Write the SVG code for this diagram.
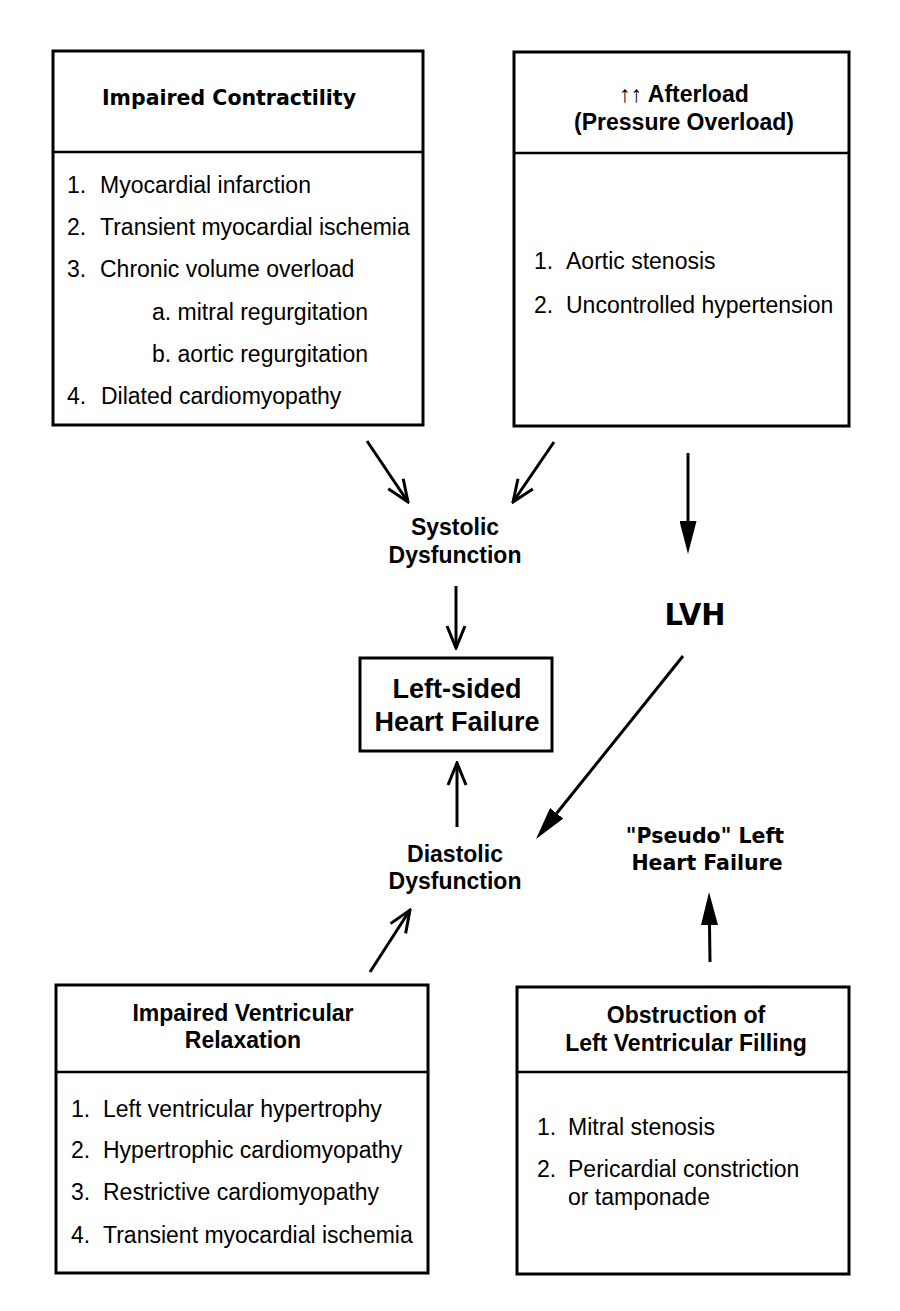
<svg xmlns="http://www.w3.org/2000/svg" width="900" height="1311" viewBox="0 0 900 1311">
<style>
.box{fill:none;stroke:#000;stroke-width:3}
.div{stroke:#000;stroke-width:2.5}
.ln{stroke:#000;stroke-width:3;fill:none}
.hv{font-family:"Liberation Sans",Arial,sans-serif;font-weight:bold;font-size:23px;fill:#000;text-anchor:middle}
.big{font-size:27px}
.vd{font-family:"DejaVu Sans",Verdana,sans-serif;font-weight:bold;font-size:20.5px;fill:#000;text-anchor:middle}
.lvh{font-size:31px}
.li{font-family:"Liberation Sans",Arial,sans-serif;font-size:23px;fill:#000}
.nb{font-weight:normal}
</style>
<defs>
<marker id="open" markerUnits="userSpaceOnUse" viewBox="0 0 26 22" refX="24" refY="11" markerWidth="26" markerHeight="22" orient="auto">
<path d="M2,2 L24,11 L2,20" fill="none" stroke="#000" stroke-width="3"/>
</marker>
<marker id="solid" markerUnits="userSpaceOnUse" viewBox="0 0 33 17" refX="0" refY="8.5" markerWidth="33" markerHeight="17" orient="auto">
<path d="M0,0 L33,8.5 L0,17 z" fill="#000"/>
</marker>
</defs>
<rect width="900" height="1311" fill="#fff"/>

<g id="impaired-contractility">
<rect class="box" x="53" y="51" width="370" height="374"/>
<line class="div" x1="53" y1="152" x2="423" y2="152"/>
<text class="vd" x="229" y="105">Impaired Contractility</text>
<text class="li" x="67" y="193">1.</text><text class="li" x="100" y="193">Myocardial infarction</text>
<text class="li" x="67" y="235">2.</text><text class="li" x="100" y="235">Transient myocardial ischemia</text>
<text class="li" x="67" y="277">3.</text><text class="li" x="100" y="277">Chronic volume overload</text>
<text class="li" x="152" y="320">a. mitral regurgitation</text>
<text class="li" x="152" y="362">b. aortic regurgitation</text>
<text class="li" x="67" y="404">4.</text><text class="li" x="101" y="404">Dilated cardiomyopathy</text>
</g>

<g id="afterload">
<rect class="box" x="514" y="52" width="335" height="374"/>
<line class="div" x1="514" y1="153" x2="849" y2="153"/>
<text class="hv" x="684" y="102"><tspan class="nb">↑↑</tspan> Afterload</text>
<text class="hv" x="684" y="130">(Pressure Overload)</text>
<text class="li" x="534" y="269">1.</text><text class="li" x="566" y="269">Aortic stenosis</text>
<text class="li" x="534" y="313">2.</text><text class="li" x="566" y="313">Uncontrolled hypertension</text>
</g>

<g id="systolic">
<text class="hv" x="455" y="535">Systolic</text>
<text class="hv" x="455" y="563">Dysfunction</text>
</g>

<g id="lvh">
<text class="vd lvh" x="695" y="625" textLength="61" lengthAdjust="spacingAndGlyphs">LVH</text>
</g>

<g id="left-sided-hf">
<rect class="box" x="360" y="658" width="192" height="93"/>
<text class="hv big" x="457" y="698">Left-sided</text>
<text class="hv big" x="457" y="731">Heart Failure</text>
</g>

<g id="diastolic">
<text class="hv" x="455" y="862">Diastolic</text>
<text class="hv" x="455" y="889">Dysfunction</text>
</g>

<g id="pseudo">
<text class="vd" x="705" y="843">"Pseudo" Left</text>
<text class="vd" x="707" y="870">Heart Failure</text>
</g>

<g id="impaired-relaxation">
<rect class="box" x="56" y="985" width="372" height="288"/>
<line class="div" x1="56" y1="1072" x2="428" y2="1072"/>
<text class="hv" x="243" y="1021">Impaired Ventricular</text>
<text class="hv" x="243" y="1048">Relaxation</text>
<text class="li" x="71" y="1117">1.</text><text class="li" x="103" y="1117">Left ventricular hypertrophy</text>
<text class="li" x="71" y="1158">2.</text><text class="li" x="103" y="1158">Hypertrophic cardiomyopathy</text>
<text class="li" x="71" y="1200">3.</text><text class="li" x="103" y="1200">Restrictive cardiomyopathy</text>
<text class="li" x="71" y="1243">4.</text><text class="li" x="103" y="1243">Transient myocardial ischemia</text>
</g>

<g id="obstruction">
<rect class="box" x="517" y="987" width="332" height="287"/>
<line class="div" x1="517" y1="1072" x2="849" y2="1072"/>
<text class="hv" x="686" y="1023">Obstruction of</text>
<text class="hv" x="686" y="1051">Left Ventricular Filling</text>
<text class="li" x="537" y="1135">1.</text><text class="li" x="568" y="1135">Mitral stenosis</text>
<text class="li" x="537" y="1177">2.</text><text class="li" x="568" y="1177">Pericardial constriction</text>
<text class="li" x="568" y="1205">or tamponade</text>
</g>

<g id="connectors">
<line class="ln" x1="367" y1="441" x2="408" y2="502" marker-end="url(#open)"/>
<line class="ln" x1="554" y1="442" x2="513" y2="502" marker-end="url(#open)"/>
<line class="ln" x1="688" y1="453" x2="688" y2="521" marker-end="url(#solid)"/>
<line class="ln" x1="456" y1="586" x2="456" y2="648" marker-end="url(#open)"/>
<line class="ln" x1="683" y1="656" x2="556.7" y2="813.3" marker-end="url(#solid)"/>
<line class="ln" x1="457" y1="827" x2="457" y2="763" marker-end="url(#open)"/>
<line class="ln" x1="370" y1="972" x2="410" y2="910" marker-end="url(#open)"/>
<line class="ln" x1="710" y1="962" x2="709.5" y2="925" marker-end="url(#solid)"/>
</g>
</svg>
